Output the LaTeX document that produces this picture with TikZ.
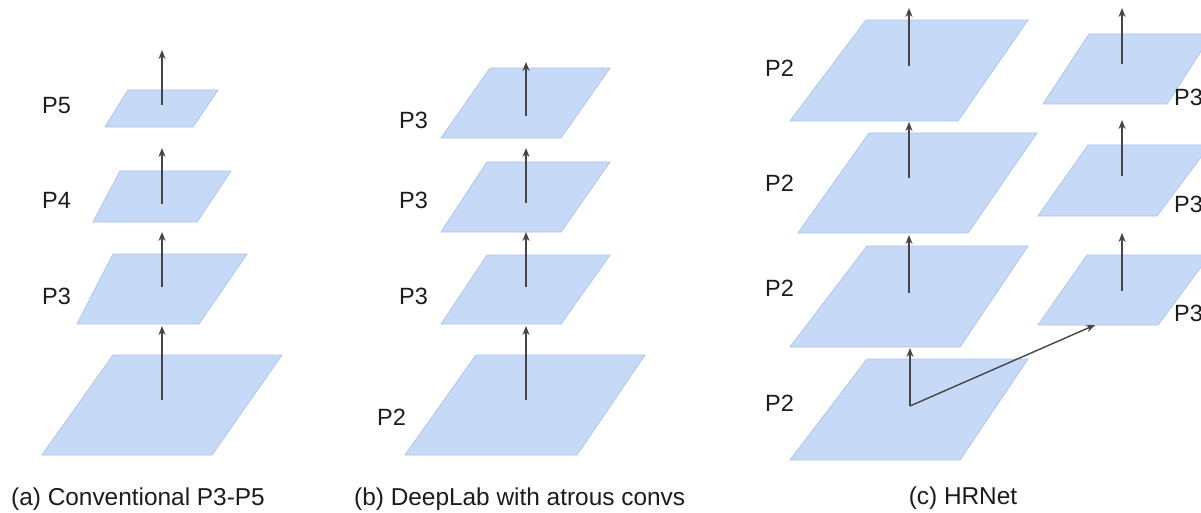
\documentclass[tikz,border=0pt]{standalone}
\usepackage{fontspec}
\setmainfont{Liberation Sans}
\usetikzlibrary{arrows.meta}
\definecolor{planefill}{HTML}{C6D9F7}
\definecolor{planeedge}{HTML}{AEC6EE}
\definecolor{arrowcol}{HTML}{454545}
\definecolor{txtcol}{HTML}{1C1C1C}
\tikzset{
  plane/.style={fill=planefill,draw=planeedge,line width=0.8pt,line join=miter},
  flow/.style={draw=arrowcol,line width=1.4pt,-{Stealth[length=9pt,width=7pt]}},
  lbl/.style={anchor=west,inner sep=0pt,font=\fontsize{23.5}{27}\selectfont,text=txtcol},
  captext/.style={inner sep=0pt,font=\fontsize{24.4}{28}\selectfont,text=txtcol}
}
\begin{document}
\begin{tikzpicture}[x=1pt,y=-1pt]
\useasboundingbox[fill=white] (0,0) rectangle (1201,513);

% ---------- (a) ----------
\filldraw[plane] (113,355) -- (282,355) -- (212,455) -- (42,455) -- cycle;
\filldraw[plane] (113,254) -- (247,254) -- (199,324) -- (77,324) -- cycle;
\filldraw[plane] (120,171) -- (231,171) -- (197,222) -- (93,222) -- cycle;
\filldraw[plane] (128,90) -- (218,90) -- (193,127) -- (105,127) -- cycle;
\coordinate (a1s) at (162,400); \coordinate (a1e) at (162,326);
\coordinate (a2s) at (162,287); \coordinate (a2e) at (162,232);
\coordinate (a3s) at (162,204); \coordinate (a3e) at (162,148);
\coordinate (a4s) at (162,105); \coordinate (a4e) at (162,50);
\draw[flow] (a1s) -- (a1e);
\draw[flow] (a2s) -- (a2e);
\draw[flow] (a3s) -- (a3e);
\draw[flow] (a4s) -- (a4e);
\node[lbl] (la5) at (42,106) {P5};
\node[lbl] (la4) at (42,200) {P4};
\node[lbl] (la3) at (42,296) {P3};
\node[captext,anchor=west] (capa) at (11,499) {(a) Conventional P3-P5};

% ---------- (b) ----------
\filldraw[plane] (476,355) -- (645,355) -- (577,455) -- (405,455) -- cycle;
\filldraw[plane] (487,255) -- (610,255) -- (561,324) -- (441,324) -- cycle;
\filldraw[plane] (487,162) -- (610,162) -- (561,232) -- (441,232) -- cycle;
\filldraw[plane] (490,68) -- (610,68) -- (561,138) -- (441,138) -- cycle;
\coordinate (b1s) at (526,400); \coordinate (b1e) at (526,326);
\coordinate (b2s) at (526,287); \coordinate (b2e) at (526,232);
\coordinate (b3s) at (526,203); \coordinate (b3e) at (526,148);
\coordinate (b4s) at (526,116); \coordinate (b4e) at (526,62);
\draw[flow] (b1s) -- (b1e);
\draw[flow] (b2s) -- (b2e);
\draw[flow] (b3s) -- (b3e);
\draw[flow] (b4s) -- (b4e);
\node[lbl] (lb4) at (399,120) {P3};
\node[lbl] (lb3) at (399,200) {P3};
\node[lbl] (lb2) at (399,296) {P3};
\node[lbl] (lb1) at (377,417) {P2};
\node[captext,anchor=west] (capb) at (354,499) {(b) DeepLab with atrous convs};

% ---------- (c) ----------
\filldraw[plane] (867,359) -- (1028,359) -- (960,460) -- (790,460) -- cycle;
\filldraw[plane] (867,246) -- (1028,246) -- (960,347) -- (790,347) -- cycle;
\filldraw[plane] (869,133) -- (1037,133) -- (968,233) -- (798,233) -- cycle;
\filldraw[plane] (866,20) -- (1028,20) -- (958,121) -- (790,121) -- cycle;
\filldraw[plane] (1087,255) -- (1210,255) -- (1158,325) -- (1038,325) -- cycle;
\filldraw[plane] (1088,145) -- (1210,145) -- (1157,216) -- (1038,216) -- cycle;
\filldraw[plane] (1089,34) -- (1212,34) -- (1167,104) -- (1043,104) -- cycle;
\coordinate (c1s) at (910,406); \coordinate (c1e) at (910,348);
\coordinate (c2s) at (909,293); \coordinate (c2e) at (909,235);
\coordinate (c3s) at (909,178); \coordinate (c3e) at (909,122);
\coordinate (c4s) at (909,66);  \coordinate (c4e) at (909,8);
\coordinate (cde) at (1095,325);
\coordinate (d1s) at (1122,291); \coordinate (d1e) at (1122,233);
\coordinate (d2s) at (1122,176); \coordinate (d2e) at (1122,120);
\coordinate (d3s) at (1122,64);  \coordinate (d3e) at (1122,8);
\draw[flow] (c1s) -- (c1e);
\draw[flow] (c2s) -- (c2e);
\draw[flow] (c3s) -- (c3e);
\draw[flow] (c4s) -- (c4e);
\draw[flow] (c1s) -- (cde);
\draw[flow] (d1s) -- (d1e);
\draw[flow] (d2s) -- (d2e);
\draw[flow] (d3s) -- (d3e);
\node[lbl] (lc4) at (765,68) {P2};
\node[lbl] (lc3) at (765,183) {P2};
\node[lbl] (lc2) at (765,288) {P2};
\node[lbl] (lc1) at (765,403) {P2};
\node[lbl] (ld3) at (1174,97) {P3};
\node[lbl] (ld2) at (1174,204) {P3};
\node[lbl] (ld1) at (1174,313) {P3};
\node[captext] (capc) at (963,498) {(c) HRNet};
\end{tikzpicture}
\end{document}
